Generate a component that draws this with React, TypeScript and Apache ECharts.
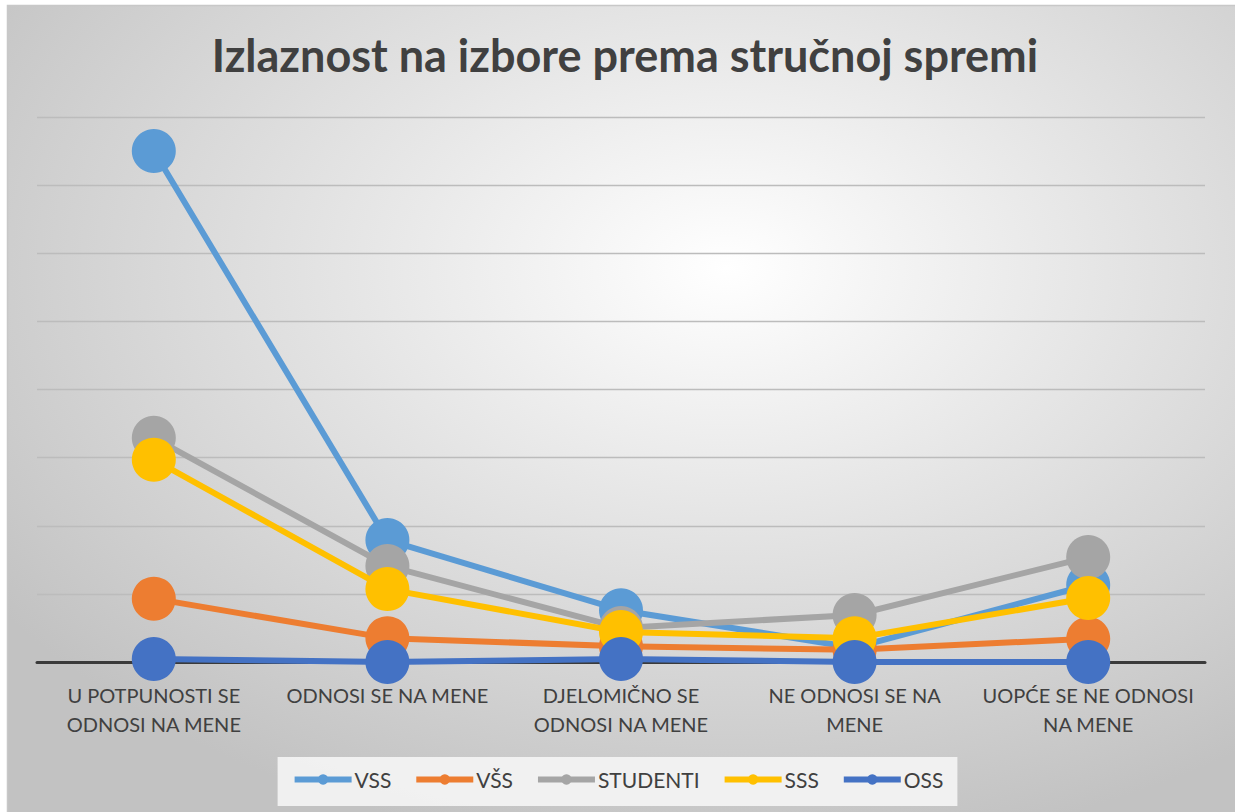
import React, { useEffect, useRef } from "react";
import * as echarts from "echarts";

const categories = [
  "U POTPUNOSTI SE\nODNOSI NA MENE",
  "ODNOSI SE NA MENE",
  "DJELOMIČNO SE\nODNOSI NA MENE",
  "NE ODNOSI SE NA\nMENE",
  "UOPĆE SE NE ODNOSI\nNA MENE",
];
const seriesNames = ["VSS", "VŠS", "STUDENTI", "SSS", "OSS"];
const vss = [75.0, 17.9, 7.6, 2.1, 11.3];
const vssB = [9.3, 3.5, 2.3, 1.8, 3.4];
const studenti = [32.9, 14.1, 5.0, 6.9, 15.4];
const sss = [29.7, 10.7, 4.4, 3.5, 9.4];
const oss = [0.45, 0, 0.45, 0, 0];
const seriesValues = [vss, vssB, studenti, sss, oss];
const colors = ["#5B9BD5", "#ED7D31", "#A5A5A5", "#FFC000", "#4472C4"];

export default function App() {
  const ref = useRef<HTMLDivElement>(null);
  useEffect(() => {
    document.body.style.margin = "0";
    const chart = echarts.init(ref.current!, undefined, { renderer: "svg" });
    const font = "Lato, 'Open Sans', sans-serif";
    chart.setOption({
      animation: false,
      graphic: [
        {
          type: "rect",
          z: -10,
          silent: true,
          shape: { x: 7.5, y: 5.5, width: 1240, height: 820 },
          style: {
            fill: new echarts.graphic.RadialGradient(0.58, 0.32, 0.72, [
              { offset: 0, color: "#ffffff" },
              { offset: 1, color: "#c2c2c2" },
            ]),
            stroke: "#c8c8c8",
            lineWidth: 1.5,
          },
        },
      ],
      title: {
        text: "Izlaznost na izbore prema stručnoj spremi",
        left: 620,
        textAlign: "center",
        top: 27,
        textStyle: {
          fontFamily: font,
          fontWeight: "bold",
          fontSize: 45,
          color: "#404040",
        },
      },
      legend: {
        data: seriesNames,
        left: "center",
        top: 757,
        padding: [12, 14, 16, 14],
        backgroundColor: "rgba(245,245,245,0.9)",
        itemWidth: 57,
        itemHeight: 13,
        itemGap: 22,
        lineStyle: { width: 6 },
        textStyle: { fontFamily: font, fontSize: 21, color: "#404040", padding: [0, 0, 0, -2] },
      },
      grid: { left: 37, right: 30, top: 117, bottom: 150 },
      xAxis: {
        type: "category",
        data: categories,
        boundaryGap: true,
        axisTick: { show: false },
        axisLine: { show: true, lineStyle: { color: "#3a3a3a", width: 3 } },
        axisLabel: {
          color: "#404040",
          fontFamily: font,
          fontSize: 20,
          lineHeight: 29,
          margin: 18,
          interval: 0,
        },
      },
      yAxis: {
        type: "value",
        min: 0,
        max: 80,
        interval: 10,
        axisLabel: { show: false },
        axisLine: { show: false },
        axisTick: { show: false },
        splitLine: { lineStyle: { color: "#bcbcbc", width: 1.3 } },
      },
      series: seriesNames.map((name, i) => ({
        name,
        type: "line",
        data: seriesValues[i],
        symbol: "circle",
        symbolSize: 44,
        color: colors[i],
        lineStyle: { width: 6, color: colors[i] },
        itemStyle: { color: colors[i] },
        z: 2 + i,
      })),
    });
    return () => chart.dispose();
  }, []);
  return <div ref={ref} style={{ width: 1235, height: 812 }} />;
}
